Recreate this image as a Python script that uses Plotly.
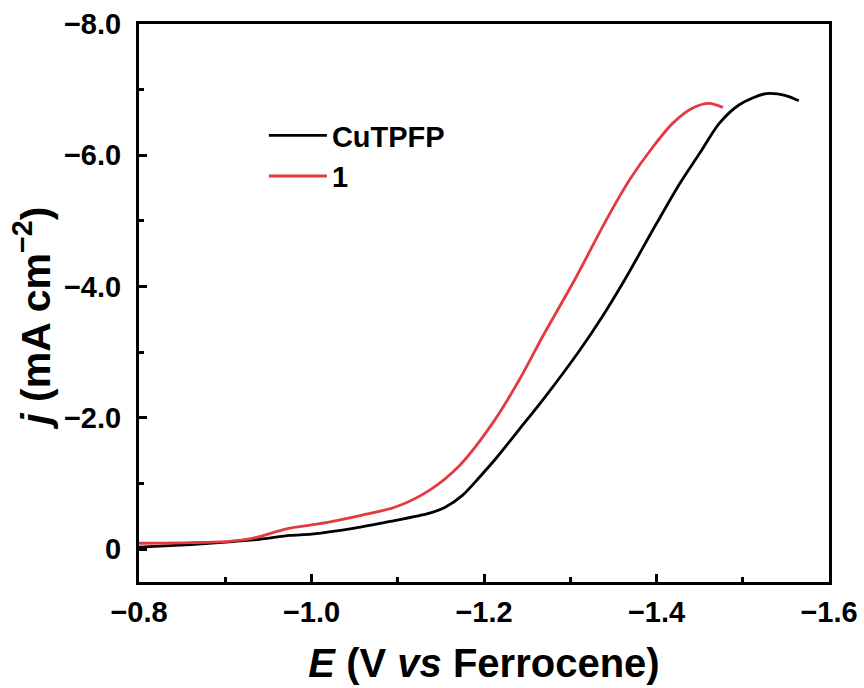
import plotly.graph_objects as go

# CuTPFP (black)
cu_E = [-0.80, -0.86, -0.905, -0.94, -0.975, -1.00, -1.05, -1.09, -1.137, -1.155, -1.175, -1.195, -1.215, -1.24, -1.268, -1.311, -1.338, -1.363, -1.40, -1.427, -1.45, -1.473, -1.496, -1.527, -1.55, -1.565]
cu_j = [-0.03, -0.07, -0.11, -0.15, -0.21, -0.23, -0.32, -0.42, -0.55, -0.64, -0.82, -1.10, -1.40, -1.81, -2.27, -3.03, -3.56, -4.10, -4.96, -5.57, -6.03, -6.49, -6.77, -6.94, -6.91, -6.83]

# 1 (red)
c1_E = [-0.80, -0.86, -0.905, -0.93, -0.945, -0.96, -0.975, -0.99, -1.006, -1.059, -1.099, -1.137, -1.172, -1.210, -1.241, -1.268, -1.305, -1.342, -1.369, -1.396, -1.419, -1.442, -1.461, -1.477]
c1_j = [-0.09, -0.10, -0.12, -0.16, -0.21, -0.27, -0.32, -0.35, -0.38, -0.52, -0.65, -0.90, -1.28, -1.92, -2.58, -3.24, -4.10, -5.02, -5.63, -6.13, -6.49, -6.72, -6.79, -6.73]

x_ticks = [-0.8, -1.0, -1.2, -1.4, -1.6]
x_ticktext = ["\u22120.8", "\u22121.0", "\u22121.2", "\u22121.4", "\u22121.6"]
y_ticks = [0, -2, -4, -6, -8]
y_ticktext = ["0", "\u22122.0", "\u22124.0", "\u22126.0", "\u22128.0"]

font_family = "Liberation Sans, Arial, sans-serif"

fig = go.Figure()
fig.add_trace(go.Scatter(x=cu_E, y=cu_j, mode="lines", name="CuTPFP", legendgroup="a",
                         line=dict(color="black", width=2.8, shape="spline", smoothing=0.8)))
fig.add_trace(go.Scatter(x=c1_E, y=c1_j, mode="lines", name="1", legendgroup="b",
                         line=dict(color="#E23A3F", width=2.8, shape="spline", smoothing=0.8)))

axis_common = dict(
    showline=True, linecolor="black", linewidth=3, mirror=True,
    ticks="inside", ticklen=8, tickwidth=2.5, tickcolor="black",
    showgrid=False, zeroline=False, automargin=False,
    tickfont=dict(family=font_family, size=29, color="black", weight="bold"),
)

fig.update_xaxes(
    range=[-0.8, -1.6], tickvals=x_ticks, ticktext=x_ticktext,
    minor=dict(ticks="inside", ticklen=5, tickwidth=2.5, tickcolor="black", dtick=0.1, tick0=-0.8),
    title=dict(text="<b><i>E</i> (V <i>vs</i> Ferrocene)</b>",
               font=dict(family=font_family, size=40, color="black"), standoff=23),
    ticklabelstandoff=2,
    **axis_common,
)
fig.update_yaxes(
    range=[0.5, -8.0], tickvals=y_ticks, ticktext=y_ticktext,
    minor=dict(ticks="inside", ticklen=5, tickwidth=2.5, tickcolor="black", dtick=1, tick0=0),
    ticklabelstandoff=9,
    **axis_common,
)

fig.add_annotation(
    text="<b><i>j</i> (mA cm<sup>\u22122</sup>)</b>",
    xref="paper", yref="paper", x=-0.155, y=0.472,
    xanchor="center", yanchor="middle", textangle=-90, showarrow=False,
    font=dict(family=font_family, size=41, color="black"),
)

fig.update_layout(
    width=864, height=688,
    margin=dict(l=139, r=35, t=24, b=106),
    paper_bgcolor="white", plot_bgcolor="white",
    showlegend=True,
    legend=dict(x=0.181, y=0.846, xanchor="left", yanchor="top",
                bgcolor="rgba(0,0,0,0)", borderwidth=0,
                font=dict(family=font_family, size=29, color="black", weight="bold"),
                tracegroupgap=0, itemwidth=58),
)

fig.write_html("out.html")
